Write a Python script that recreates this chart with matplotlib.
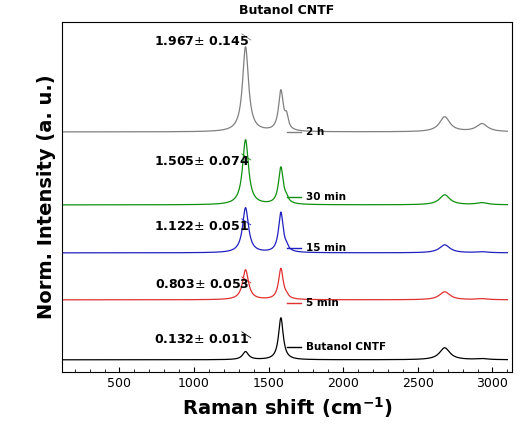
import numpy as np
import matplotlib.pyplot as plt
from matplotlib.ticker import MultipleLocator

# samples, bottom to top
names = ['Butanol CNTF', '5 min', '15 min', '30 min', '2 h']
colors = ['black', '#e03030', '#2020c0', '#109010', 'gray']
ratios = ['0.132$\\pm$ 0.011', '0.803$\\pm$ 0.053', '1.122$\\pm$ 0.051',
          '1.505$\\pm$ 0.074', '1.967$\\pm$ 0.145']
offsets = [12, 72, 119, 167, 240]
# peak heights: D (1345), G (1582), D' (1620), 2D (2680), D+G (2930)
peak_pos = [1345, 1582, 1620, 2680, 2930]
peak_wid = [24, 19, 14, 42, 45]
heights = [
    [8, 42, 0, 12, 1],
    [30, 31, 2, 8, 1],
    [45, 40, 3, 8, 1],
    [65, 37, 4, 10, 2],
    [85, 40, 12, 15, 8],
]
ratio_y = [32, 87, 145, 210, 330]
label_y = [25, 69, 124, 175, 240]

x = np.linspace(100, 3100, 3000)

fig, ax = plt.subplots(figsize=(5.17, 4.4), dpi=100)
fig.subplots_adjust(left=0.12, right=0.99, bottom=0.155, top=0.95)

for i in range(len(names)):
    y = np.full_like(x, offsets[i], dtype=float)
    for p, w, h in zip(peak_pos, peak_wid, heights[i]):
        y += h / (1 + ((x - p) / w) ** 2)
    ax.plot(x, y, color=colors[i], lw=0.9)
    ax.text(1370, ratio_y[i], ratios[i], ha='right', va='center',
            fontsize=9, fontweight='bold')
    ax.plot([1380, 1320], [ratio_y[i] + 2, ratio_y[i] + 8],
            color=colors[i], lw=0.6)
    ax.plot([1620, 1720], [label_y[i], label_y[i]], color=colors[i], lw=1)
    ax.text(1750, label_y[i], names[i], va='center', fontsize=7.5,
            fontweight='bold')

ax.set_xlim(115, 3130)
ax.set_ylim(0, 350)
ax.set_yticks([])
ax.xaxis.set_major_locator(MultipleLocator(500))
ax.xaxis.set_minor_locator(MultipleLocator(100))
ax.tick_params(axis='x', direction='in', which='both', labelsize=9)
ax.set_title('Butanol CNTF', fontsize=9, fontweight='bold')
ax.set_xlabel('Raman shift (cm$^{\\mathbf{-1}}$)', fontsize=14, fontweight='bold')
ax.set_ylabel('Norm. Intensity (a. u.)', fontsize=14, fontweight='bold')
plt.savefig('out.png')
